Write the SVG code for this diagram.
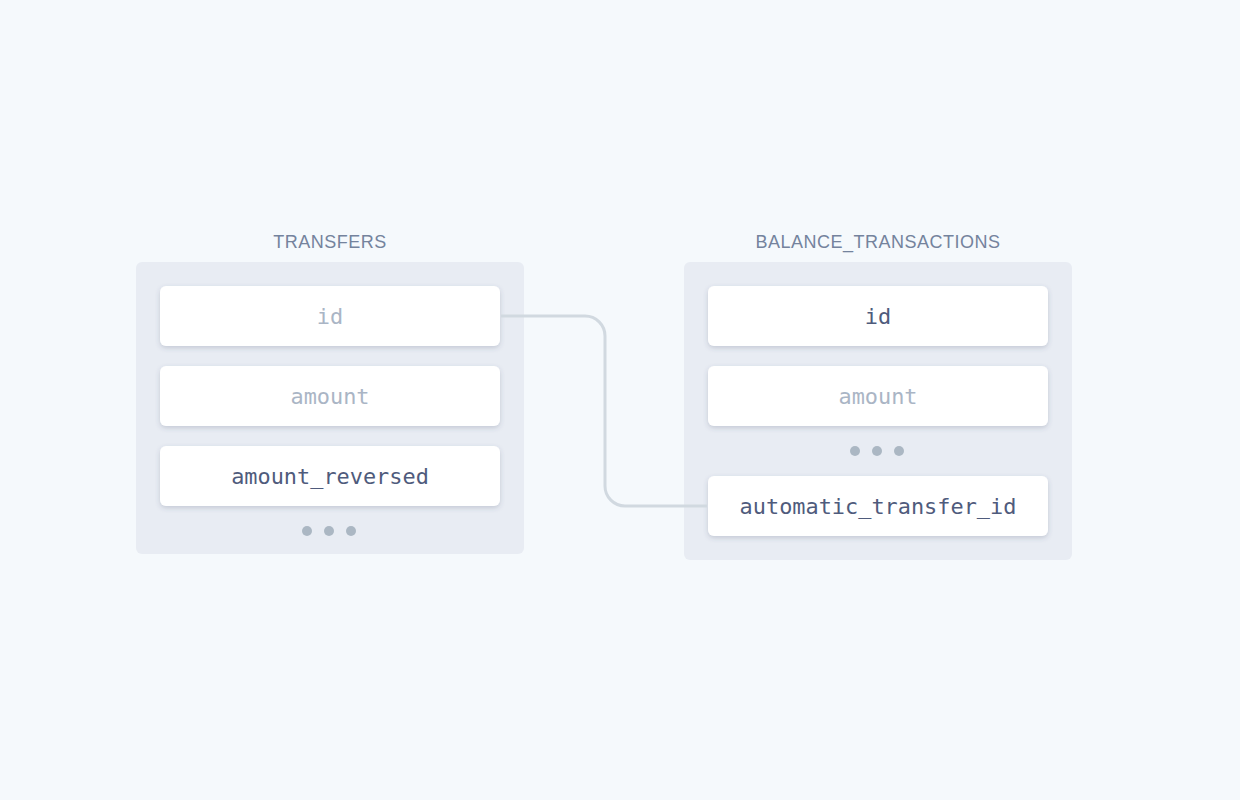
<svg xmlns="http://www.w3.org/2000/svg" width="1240" height="800" viewBox="0 0 1240 800">
<defs>
<filter id="sh" x="-10%" y="-30%" width="120%" height="170%">
<feDropShadow dx="0" dy="2" stdDeviation="2.5" flood-color="#3c4a6b" flood-opacity="0.22"/>
</filter>
<style>
.title{font-family:"Liberation Sans","Noto Sans",sans-serif;font-size:18px;fill:#74839d;text-anchor:middle;letter-spacing:0.5px}
.panel{fill:#e8ecf3}
.card{fill:#ffffff;filter:url(#sh)}
.f{font-family:"DejaVu Sans Mono","Liberation Mono",monospace;font-size:21.9px;text-anchor:middle;dominant-baseline:central}
.dark{fill:#4f5b7c}
.light{fill:#aab5c5}
.dot{fill:#abb7c3}
.conn{fill:none;stroke:#d1d9e0;stroke-width:3}
</style>
</defs>
<rect width="1240" height="800" fill="#f5f9fc"/>
<g id="transfers">
<text class="title" x="330" y="248">TRANSFERS</text>
<rect class="panel" x="136" y="262" width="388" height="292" rx="6"/>
<rect class="card" x="160" y="286" width="340" height="60" rx="6"/>
<text class="f light" x="330" y="316">id</text>
<rect class="card" x="160" y="366" width="340" height="60" rx="6"/>
<text class="f light" x="330" y="396">amount</text>
<rect class="card" x="160" y="446" width="340" height="60" rx="6"/>
<text class="f dark" x="330" y="476">amount_reversed</text>
<circle class="dot" cx="307" cy="531" r="5"/>
<circle class="dot" cx="329" cy="531" r="5"/>
<circle class="dot" cx="351" cy="531" r="5"/>
</g>
<g id="balance_transactions">
<text class="title" x="878" y="248">BALANCE_TRANSACTIONS</text>
<rect class="panel" x="684" y="262" width="388" height="298" rx="6"/>
<rect class="card" x="708" y="286" width="340" height="60" rx="6"/>
<text class="f dark" x="878" y="316">id</text>
<rect class="card" x="708" y="366" width="340" height="60" rx="6"/>
<text class="f light" x="878" y="396">amount</text>
<circle class="dot" cx="855" cy="451" r="5"/>
<circle class="dot" cx="877" cy="451" r="5"/>
<circle class="dot" cx="899" cy="451" r="5"/>
<rect class="card" x="708" y="476" width="340" height="60" rx="6"/>
<text class="f dark" x="878" y="506">automatic_transfer_id</text>
</g>
<g id="connectors">
<path class="conn" d="M501 316 H585 A20 20 0 0 1 605 336 V486 A20 20 0 0 0 625 506 H707"/>
</g>
</svg>
